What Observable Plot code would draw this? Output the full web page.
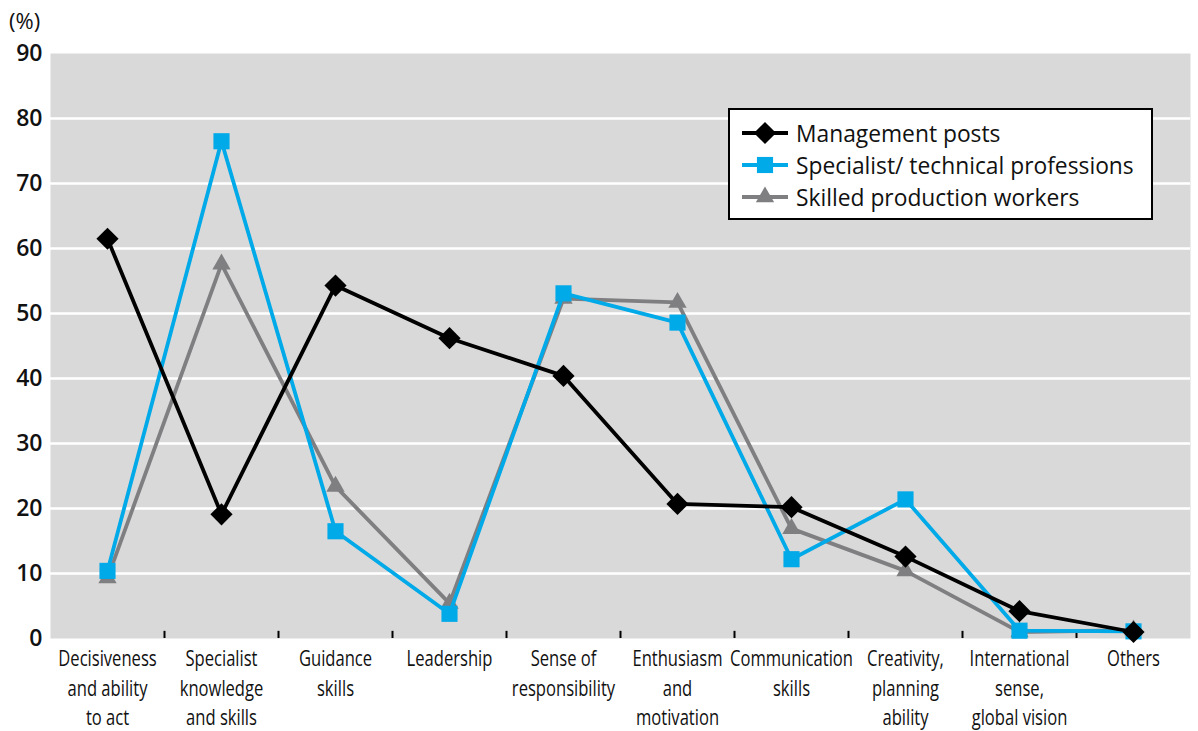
<!DOCTYPE html>
<html>
<head>
<meta charset="utf-8">
<script src="https://cdn.jsdelivr.net/npm/d3@7"></script>
<script src="https://cdn.jsdelivr.net/npm/@observablehq/plot@0.6"></script>
<style>
  html, body { margin: 0; padding: 0; background: #fff; }
  #wrap { position: relative; width: 1198px; height: 731px; }
  #unit { position: absolute; left: 9px; top: 9px; font: 22px/22px "Open Sans", "Liberation Sans", sans-serif; color: #111; }
  #legend { position: absolute; left: 728px; top: 108px; width: 425px; height: 112px; box-sizing: border-box;
            border: 2px solid #000; background: #fff; padding-top: 7px; }
  .row { display: flex; align-items: center; height: 32px; }
  .row svg { margin-left: 10px; margin-right: 6px; }
  .row span { font: 22.8px "Open Sans", "Liberation Sans", sans-serif; color: #111; white-space: nowrap; }
</style>
</head>
<body>
<div id="wrap">
  <div id="chart"></div>
  <div id="unit">(%)</div>
  <div id="legend"></div>
</div>
<script>
// Skill categories along the x axis (line breaks as printed)
const categories = [
  "Decisiveness\nand ability\nto act",
  "Specialist\nknowledge\nand skills",
  "Guidance\nskills",
  "Leadership",
  "Sense of\nresponsibility",
  "Enthusiasm\nand\nmotivation",
  "Communication\nskills",
  "Creativity,\nplanning\nability",
  "International\nsense,\nglobal vision",
  "Others"
];

// Share of respondents (%) per category
const management = [61.5, 19.1, 54.3, 46.2, 40.4, 20.7, 20.2, 12.6, 4.2, 1.0];
const specialist = [10.4, 76.5, 16.5, 3.8, 53.1, 48.6, 12.2, 21.4, 1.2, 1.1];
const skilled    = [9.3, 57.6, 23.4, 5.4, 52.3, 51.7, 16.9, 10.4, 1.0, 1.3];

const seriesNames = ["Management posts", "Specialist/ technical professions", "Skilled production workers"];
const yTicks = [0, 10, 20, 30, 40, 50, 60, 70, 80, 90];

const seriesStyle = [
  { name: seriesNames[0], values: management, color: "#000000", symbol: "diamond2", r: 10 },
  { name: seriesNames[1], values: specialist, color: "#00a9e8", symbol: "square", r: 9.1 },
  { name: seriesNames[2], values: skilled,    color: "#7f7f82", symbol: "triangle", r: 6.8 }
];

const idx = d3.range(categories.length);
const boundaries = d3.range(1, categories.length).map(i => i - 0.5);
const rowsOf = s => idx.map(i => ({ i, v: s.values[i], series: s.name }));

// draw gray first, black last so it sits on top
const seriesMarks = seriesStyle.slice().reverse().flatMap(s => [
  Plot.line(rowsOf(s), { x: "i", y: "v", stroke: s.color, strokeWidth: 3.8, strokeLinejoin: "miter" }),
  Plot.dot(rowsOf(s), { x: "i", y: "v", symbol: s.symbol, r: s.r, fill: s.color, stroke: "none" })
]);

const chart = Plot.plot({
  width: 1198,
  height: 731,
  marginLeft: 50,
  marginRight: 8,
  marginTop: 53,
  marginBottom: 93,
  style: { fontFamily: "'Open Sans', 'Liberation Sans', sans-serif", background: "#fff", color: "#111" },
  x: { type: "linear", domain: [-0.5, categories.length - 0.5], axis: null },
  y: { domain: [0, 90], axis: null },
  marks: [
    Plot.frame({ fill: "#d9d9d9", stroke: "none" }),
    Plot.ruleY(yTicks.filter(t => t > 0 && t < 90), { stroke: "#fff", strokeWidth: 2.7 }),
    Plot.ruleX(boundaries, { y1: 0, y2: 1.1, stroke: "#000", strokeWidth: 2 }),
    Plot.axisY(yTicks, {
      tickSize: 0, tickPadding: 8, label: null,
      fontSize: 23, fontWeight: 600
    }),
    Plot.axisX(idx, {
      tickSize: 0, tickPadding: 7, label: null,
      tickFormat: i => categories[i],
      fontSize: 21, lineHeight: 1.4
    }),
    ...seriesMarks
  ]
});
document.getElementById("chart").appendChild(chart);

// condensed look for the category labels: squeeze each label horizontally about its anchor point
d3.select(chart).selectAll('g[aria-label="x-axis tick label"] text').each(function () {
  const t = this.getAttribute("transform");
  if (t && t.includes("translate")) {
    this.setAttribute("transform", t + " scale(0.79,1)");
  } else {
    const x = +(this.getAttribute("x") || 0);
    this.setAttribute("transform", `translate(${x},0) scale(0.79,1) translate(${-x},0)`);
  }
});

// legend entries
const legend = d3.select("#legend");
seriesStyle.forEach(s => {
  const row = legend.append("div").attr("class", "row");
  const svg = row.append("svg").attr("width", 50).attr("height", 24);
  svg.append("line").attr("x1", 2).attr("x2", 48).attr("y1", 12).attr("y2", 12)
    .attr("stroke", s.color).attr("stroke-width", 3.8);
  const sym = { diamond2: d3.symbolDiamond2, square: d3.symbolSquare, triangle: d3.symbolTriangle }[s.symbol];
  svg.append("path").attr("transform", "translate(25,12)")
    .attr("d", d3.symbol(sym, Math.PI * s.r * s.r)())
    .attr("fill", s.color);
  row.append("span").text(s.name);
});
</script>
</body>
</html>
